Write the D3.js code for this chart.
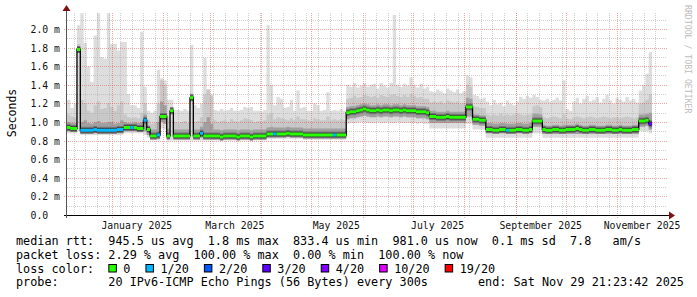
<!DOCTYPE html>
<html>
<head>
<meta charset="utf-8">
<script src="https://cdn.jsdelivr.net/npm/d3@7"></script>
<style>
  body { margin: 0; background: #fff; }
  svg text { font-family: "DejaVu Sans Mono", monospace; white-space: pre; }
</style>
</head>
<body>
<div id="chart"></div>
<script>
// size of the whole picture and of the plot area
const width = 697;
const height = 297;
const plot = {left: 67, right: 667, top: 13, bottom: 215};

// time axis: one value every 2 days, first one on Dec 5 2024
const firstDay = Date.UTC(2024, 11, 5);
const stepDays = 2;

// median rtt in ms
const median = [
  0.94, 0.93, 0.93, 1.78,
  0.91, 0.91, 0.91, 0.91, 0.92, 0.91, 0.91, 0.91, 0.91, 0.91, 0.91, 0.92, 0.92,
  0.94, 0.94, 0.94, 0.94, 0.93, 0.93, 1.02, 0.92, 0.85, 0.85, 0.86, 1.06, 1.06,
  0.85, 1.12, 0.85, 0.85, 0.85, 0.85, 0.85, 1.26, 0.85, 0.85, 0.88,
  0.85, 0.85, 0.85, 0.85, 0.85, 0.84, 0.85, 0.85, 0.85, 0.85, 0.84, 0.85, 0.85, 0.85, 0.84, 0.85, 0.85, 0.85, 0.85,
  0.87, 0.87, 0.87, 0.87, 0.87, 0.87, 0.88, 0.87, 0.87, 0.87, 0.87,
  0.86, 0.86, 0.86, 0.86, 0.86, 0.86, 0.86, 0.86, 0.86, 0.86, 0.86, 0.86, 0.86,
  1.10, 1.11, 1.11, 1.12, 1.13, 1.14, 1.13, 1.12, 1.12, 1.13, 1.12, 1.13, 1.13, 1.12, 1.13, 1.13, 1.12, 1.13, 1.12, 1.12, 1.12, 1.11, 1.11, 1.11, 1.10,
  1.06, 1.06, 1.05, 1.05, 1.05, 1.06, 1.05, 1.05, 1.05, 1.05, 1.05,
  1.16, 1.16, 1.03, 1.03, 1.02, 1.02,
  0.92, 0.92, 0.91, 0.91, 0.92, 0.92, 0.91, 0.91, 0.91, 0.92, 0.92, 0.91, 0.91, 0.92,
  1.01, 1.01, 1.01,
  0.92, 0.91, 0.91, 0.92, 0.92, 0.91, 0.91, 0.92, 0.92, 0.92, 0.93, 0.92, 0.91, 0.91, 0.92, 0.92, 0.91, 0.91, 0.91, 0.92, 0.92, 0.91, 0.91, 0.92, 0.91, 0.91, 0.91, 0.92, 0.92,
  1.01, 1.01, 1.02, 0.98
];

// slowest ping of each step (top of the smoke)
const pingMax = [
  1.24, 1.15, 1.20, 2.04,
  2.17, 1.85, 1.60, 1.43, 1.93, 2.17, 1.70, 1.68, 2.17, 1.84, 1.84, 1.77, 1.86,
  1.86, 1.30, 1.18, 1.18, 1.15, 1.97, 1.38, 1.12, 1.10, 1.12, 1.56, 1.47, 1.45,
  1.24, 1.24, 1.13, 1.13, 1.12, 1.14, 1.12, 1.83, 1.18, 1.15, 1.20,
  1.69, 1.35, 1.30, 1.13, 1.12, 1.14, 1.12, 1.13, 1.15, 1.12, 1.12, 1.13, 1.16, 1.15, 1.16, 1.12, 1.12, 1.11, 1.13,
  2.04, 1.40, 1.18, 1.27, 1.25, 1.15, 1.16, 1.24, 1.12, 1.34, 1.15,
  1.16, 1.12, 1.12, 1.20, 1.18, 1.12, 1.13, 1.32, 1.12, 1.13, 1.12, 1.14, 1.12,
  1.40, 1.38, 1.42, 1.37, 1.39, 1.42, 1.38, 1.40, 1.41, 1.36, 1.42, 1.39, 1.37, 1.42, 2.15, 1.40, 1.38, 1.41, 1.39, 1.48, 1.40, 1.37, 1.41, 1.36, 1.38,
  1.33, 1.32, 1.35, 1.33, 1.31, 1.36, 1.34, 1.32, 1.35, 1.31, 1.33,
  1.50, 1.48, 1.29, 1.28, 1.25, 1.26,
  1.22, 1.18, 1.24, 1.19, 1.21, 1.17, 1.23, 1.20, 1.18, 1.22, 1.27, 1.25, 1.28, 1.26,
  1.29, 1.27, 1.24,
  1.23, 1.25, 1.22, 1.24, 1.26, 1.23, 1.45, 1.14, 1.12, 1.22, 1.26, 1.20, 1.25, 1.28, 1.22, 1.24, 1.27, 1.21, 1.25, 1.29, 1.23, 1.20, 1.26, 1.24, 1.22, 1.27, 1.23, 1.25, 1.21,
  1.34, 1.40, 1.52, 1.75
];

// second slowest ping band
const ping19 = [
  1.08, 1.06, 1.05, 1.84,
  1.24, 1.20, 1.12, 1.10, 1.18, 1.22, 1.14, 1.15, 1.20, 1.16, 1.12, 1.18, 1.22,
  1.08, 1.05, 1.04, 1.05, 1.04, 1.10, 1.20, 1.02, 0.98, 0.99, 1.20, 1.45, 1.40,
  1.05, 1.16, 1.00, 0.99, 1.00, 1.01, 0.99, 1.31, 1.00, 1.01, 1.05,
  1.30, 1.35, 1.28, 1.02, 1.00, 1.01, 1.02, 1.00, 1.03, 1.01, 1.00, 1.02, 1.04, 1.03, 1.02, 1.00, 1.01, 1.00, 1.02,
  1.08, 1.10, 1.03, 1.05, 1.04, 1.03, 1.02, 1.04, 1.02, 1.06, 1.03,
  1.03, 1.02, 1.01, 1.04, 1.03, 1.02, 1.02, 1.06, 1.02, 1.03, 1.02, 1.03, 1.02,
  1.25, 1.26, 1.28, 1.26, 1.27, 1.29, 1.28, 1.27, 1.28, 1.26, 1.29, 1.28, 1.27, 1.29, 1.30, 1.28, 1.27, 1.29, 1.27, 1.30, 1.28, 1.26, 1.27, 1.25, 1.25,
  1.21, 1.22, 1.21, 1.22, 1.20, 1.23, 1.22, 1.21, 1.22, 1.20, 1.21,
  1.40, 1.38, 1.17, 1.16, 1.15, 1.15,
  1.08, 1.07, 1.08, 1.07, 1.09, 1.07, 1.08, 1.07, 1.08, 1.09, 1.08, 1.07, 1.08, 1.08,
  1.17, 1.18, 1.16,
  1.05, 1.04, 1.05, 1.06, 1.05, 1.04, 1.08, 1.04, 1.03, 1.05, 1.06, 1.05, 1.04, 1.05, 1.06, 1.05, 1.04, 1.05, 1.06, 1.05, 1.04, 1.05, 1.05, 1.04, 1.05, 1.06, 1.05, 1.04, 1.05,
  1.20, 1.21, 1.24, 1.30
];

// inner smoke band, upper edge
const upperQ = [
  1.00, 0.99, 0.99, 1.80,
  1.00, 1.02, 0.99, 0.98, 1.00, 1.01, 0.99, 0.99, 1.00, 1.00, 0.98, 0.99, 1.02,
  1.00, 0.99, 0.99, 1.00, 0.99, 1.00, 1.08, 0.96, 0.92, 0.92, 1.00, 1.22, 1.18,
  0.93, 1.14, 0.92, 0.92, 0.92, 0.92, 0.92, 1.28, 0.92, 0.92, 0.95,
  1.00, 1.05, 0.98, 0.92, 0.92, 0.91, 0.92, 0.92, 0.92, 0.92, 0.91, 0.92, 0.92, 0.92, 0.91, 0.92, 0.92, 0.92, 0.92,
  0.94, 0.95, 0.94, 0.94, 0.94, 0.94, 0.95, 0.94, 0.94, 0.94, 0.94,
  0.93, 0.93, 0.93, 0.93, 0.93, 0.93, 0.93, 0.93, 0.93, 0.93, 0.93, 0.93, 0.93,
  1.16, 1.17, 1.17, 1.18, 1.19, 1.20, 1.19, 1.18, 1.18, 1.19, 1.18, 1.19, 1.19, 1.18, 1.19, 1.19, 1.18, 1.19, 1.18, 1.18, 1.18, 1.17, 1.17, 1.17, 1.16,
  1.12, 1.12, 1.11, 1.11, 1.11, 1.12, 1.11, 1.11, 1.11, 1.11, 1.11,
  1.26, 1.25, 1.08, 1.08, 1.07, 1.07,
  0.99, 0.99, 0.98, 0.98, 0.99, 0.99, 0.98, 0.98, 0.98, 0.99, 0.99, 0.98, 0.98, 0.99,
  1.09, 1.09, 1.08,
  0.97, 0.96, 0.96, 0.97, 0.97, 0.96, 0.97, 0.97, 0.97, 0.97, 0.98, 0.97, 0.96, 0.96, 0.97, 0.97, 0.96, 0.96, 0.96, 0.97, 0.97, 0.96, 0.96, 0.97, 0.96, 0.96, 0.96, 0.97, 0.97,
  1.08, 1.08, 1.09, 1.10
];

// inner smoke band, lower edge
const lowerQ = [
  0.90, 0.90, 0.90, 1.76,
  0.88, 0.88, 0.88, 0.88, 0.88, 0.88, 0.88, 0.88, 0.88, 0.88, 0.88, 0.88, 0.88,
  0.90, 0.90, 0.90, 0.90, 0.90, 0.90, 0.90, 0.86, 0.82, 0.82, 0.82, 1.00, 0.98,
  0.82, 1.10, 0.82, 0.82, 0.82, 0.82, 0.82, 1.24, 0.82, 0.82, 0.83,
  0.82, 0.82, 0.82, 0.82, 0.82, 0.81, 0.82, 0.82, 0.82, 0.82, 0.81, 0.82, 0.82, 0.82, 0.81, 0.82, 0.82, 0.82, 0.82,
  0.84, 0.84, 0.84, 0.84, 0.84, 0.84, 0.84, 0.84, 0.84, 0.84, 0.84,
  0.83, 0.83, 0.83, 0.83, 0.83, 0.83, 0.83, 0.83, 0.83, 0.83, 0.83, 0.83, 0.83,
  1.03, 1.04, 1.04, 1.05, 1.06, 1.07, 1.06, 1.05, 1.05, 1.06, 1.05, 1.06, 1.06, 1.05, 1.06, 1.06, 1.05, 1.06, 1.05, 1.05, 1.05, 1.04, 1.04, 1.04, 1.03,
  0.99, 0.99, 0.99, 0.99, 0.99, 0.99, 0.99, 0.99, 0.99, 0.99, 0.99,
  1.06, 1.06, 0.97, 0.97, 0.96, 0.96,
  0.88, 0.88, 0.88, 0.88, 0.88, 0.88, 0.88, 0.88, 0.88, 0.88, 0.88, 0.88, 0.88, 0.88,
  0.95, 0.95, 0.95,
  0.87, 0.87, 0.87, 0.87, 0.87, 0.87, 0.87, 0.87, 0.87, 0.87, 0.87, 0.87, 0.87, 0.87, 0.87, 0.87, 0.87, 0.87, 0.87, 0.87, 0.87, 0.87, 0.87, 0.87, 0.87, 0.87, 0.87, 0.87, 0.87,
  0.95, 0.95, 0.96, 0.92
];

// fastest ping of each step (bottom of the smoke)
const pingMin = [
  0.88, 0.88, 0.88, 0.90,
  0.86, 0.86, 0.86, 0.86, 0.86, 0.86, 0.86, 0.86, 0.86, 0.86, 0.86, 0.86, 0.86,
  0.88, 0.88, 0.88, 0.88, 0.88, 0.88, 0.86, 0.83, 0.80, 0.80, 0.80, 0.93, 0.92,
  0.80, 0.80, 0.80, 0.80, 0.80, 0.80, 0.80, 0.80, 0.80, 0.80, 0.80,
  0.80, 0.80, 0.80, 0.80, 0.80, 0.80, 0.80, 0.80, 0.80, 0.80, 0.80, 0.80, 0.80, 0.80, 0.80, 0.80, 0.80, 0.80, 0.80,
  0.82, 0.82, 0.82, 0.82, 0.82, 0.82, 0.82, 0.82, 0.82, 0.82, 0.82,
  0.81, 0.81, 0.81, 0.81, 0.81, 0.81, 0.81, 0.81, 0.81, 0.81, 0.81, 0.81, 0.81,
  0.98, 0.99, 0.99, 0.99, 1.00, 1.00, 0.99, 0.99, 0.99, 1.00, 0.99, 0.99, 1.00, 0.99, 0.99, 1.00, 0.99, 0.99, 0.99, 0.99, 0.99, 0.98, 0.99, 0.98, 0.98,
  0.93, 0.93, 0.93, 0.93, 0.93, 0.93, 0.93, 0.93, 0.93, 0.93, 0.93,
  0.98, 0.98, 0.92, 0.92, 0.92, 0.92,
  0.83, 0.83, 0.83, 0.83, 0.83, 0.83, 0.83, 0.83, 0.83, 0.83, 0.83, 0.83, 0.83, 0.83,
  0.88, 0.88, 0.88,
  0.83, 0.83, 0.83, 0.83, 0.83, 0.83, 0.83, 0.83, 0.83, 0.83, 0.83, 0.83, 0.83, 0.83, 0.83, 0.83, 0.83, 0.83, 0.83, 0.83, 0.83, 0.83, 0.83, 0.83, 0.83, 0.83, 0.83, 0.83, 0.83,
  0.90, 0.90, 0.90, 0.88
];

// packet loss: [first step, last step, index into lossLabels]; other steps had no loss
const lossRuns = [[4, 16, 1], [19, 19, 1], [23, 23, 1], [27, 27, 1], [40, 40, 1],
                  [62, 62, 1], [80, 80, 1], [132, 132, 1], [175, 175, 3]];
const lossLabels = ["0", "1/20", "2/20", "3/20", "4/20", "10/20", "19/20"];
const lossColors = ["#26ff00", "#00b8ff", "#0059ff", "#5e00ff", "#7e00ff", "#dd00ff", "#ff0000"];

// axes
const yMajor = [0, 0.2, 0.4, 0.6, 0.8, 1.0, 1.2, 1.4, 1.6, 1.8, 2.0];
const yMinor = [0.1, 0.3, 0.5, 0.7, 0.9, 1.1, 1.3, 1.5, 1.7, 1.9, 2.1];
const monthLabels = [[2025, 0, "January 2025"], [2025, 2, "March 2025"], [2025, 4, "May 2025"],
                     [2025, 6, "July 2025"], [2025, 8, "September 2025"], [2025, 10, "November 2025"]];

// legend texts
const legendRtt = "median rtt:  945.5 us avg  1.8 ms max  833.4 us min  981.0 us now  0.1 ms sd  7.8   am/s";
const legendLoss = "packet loss: 2.29 % avg  100.00 % max  0.00 % min  100.00 % now";
const legendProbe = "probe:       20 IPv6-ICMP Echo Pings (56 Bytes) every 300s";
const legendEnd = "end: Sat Nov 29 21:23:42 2025";

// colours
const smokeColors = ["#dddddd", "#c8c8c8", "#a0a0a0"];
const majorGrid = "rgba(230,80,80,0.5)";
const minorGrid = "rgba(170,170,170,0.55)";
const arrowColour = "#7f1010";

const day = 24 * 3600 * 1000;
const lossAt = i => { const r = lossRuns.find(r => i >= r[0] && i <= r[1]); return r ? r[2] : 0; };
const rows = median.map((m, i) => ({
  date: new Date(firstDay + i * stepDays * day),
  next: new Date(firstDay + (i + 1) * stepDays * day),
  med: m, max: pingMax[i], p19: ping19[i], up: upperQ[i], lo: lowerQ[i], min: pingMin[i], loss: lossAt(i)
}));
// the last step also needs its right edge
const rowsExt = rows.concat([{...rows[rows.length - 1], date: rows[rows.length - 1].next}]);

const x = d3.scaleUtc()
  .domain([new Date(Date.UTC(2024, 11, 5)), new Date(Date.UTC(2025, 11, 1))])
  .range([plot.left, plot.right]);
const y = d3.scaleLinear()
  .domain([0, 2.172])
  .range([plot.bottom, plot.top]);
const crisp = v => Math.round(v) + 0.5;

const svg = d3.select("#chart").append("svg")
  .attr("width", width).attr("height", height)
  .style("display", "block");
svg.append("rect").attr("width", width).attr("height", height).attr("fill", "#fff");

/// smoke ///
const smokeG = svg.append("g");
const band = (lo, hi) => d3.area().curve(d3.curveStepAfter)
  .x(d => x(d.date)).y0(d => y(lo(d))).y1(d => y(hi(d)));
smokeG.append("path").attr("d", band(d => d.min, d => d.max)(rowsExt)).attr("fill", smokeColors[0]);
smokeG.append("path").attr("d", band(d => d.lo, d => d.p19)(rowsExt)).attr("fill", smokeColors[1]);
smokeG.append("path").attr("d", band(d => d.lo, d => d.up)(rowsExt)).attr("fill", smokeColors[2]);

/// grid ///
const gridG = svg.append("g").attr("fill", "none").attr("stroke-dasharray", "1,1");
gridG.selectAll(".hminor").data(yMinor).join("line")
  .attr("x1", plot.left).attr("x2", plot.right)
  .attr("y1", d => crisp(y(d))).attr("y2", d => crisp(y(d)))
  .attr("stroke", minorGrid);
const weeks = d3.utcMonday.range(x.domain()[0], x.domain()[1]);
const months = d3.utcMonth.range(x.domain()[0], x.domain()[1]);
gridG.selectAll(".vminor").data(weeks).join("line")
  .attr("x1", d => crisp(x(d))).attr("x2", d => crisp(x(d)))
  .attr("y1", plot.top).attr("y2", plot.bottom)
  .attr("stroke", minorGrid);
gridG.selectAll(".hmajor").data(yMajor.slice(1)).join("line")
  .attr("x1", plot.left - 3).attr("x2", plot.right)
  .attr("y1", d => crisp(y(d))).attr("y2", d => crisp(y(d)))
  .attr("stroke", majorGrid);
gridG.selectAll(".vmajor").data(months).join("line")
  .attr("x1", d => crisp(x(d))).attr("x2", d => crisp(x(d)))
  .attr("y1", plot.top).attr("y2", plot.bottom + 3)
  .attr("stroke", majorGrid);

/// median ///
const medG = svg.append("g").attr("fill", "none");
const segment = d => `M${x(d.date)},${y(d.med)}H${x(d.next)}`;
const allSegments = rows.map(segment).join("");
medG.append("path").attr("d", allSegments).attr("stroke", "#747474").attr("stroke-width", 7);
medG.append("path").attr("d", allSegments).attr("stroke", "#3c3c3c").attr("stroke-width", 4.5);
medG.append("path")
  .attr("d", d3.line().curve(d3.curveStepAfter).x(d => x(d.date)).y(d => y(d.med))(rowsExt))
  .attr("stroke", "#000").attr("stroke-width", 1.3);
// one path per loss colour so that the segments join without seams
const byLoss = d3.groups(rows, d => d.loss);
medG.selectAll(".loss").data(byLoss).join("path")
  .attr("d", ([, list]) => list.map(segment).join(""))
  .attr("stroke", ([loss]) => lossColors[loss])
  .attr("stroke-width", 3);

/// axes ///
const axisG = svg.append("g");
axisG.append("line").attr("x1", plot.left - 3).attr("x2", plot.right + 3)
  .attr("y1", plot.bottom + 0.5).attr("y2", plot.bottom + 0.5).attr("stroke", "#000");
axisG.append("line").attr("x1", plot.left - 0.5).attr("x2", plot.left - 0.5)
  .attr("y1", plot.bottom + 3).attr("y2", plot.top - 3).attr("stroke", "#555");
axisG.append("path")
  .attr("d", `M${plot.right + 2},${plot.bottom - 3.5}L${plot.right + 8},${plot.bottom + 0.5}L${plot.right + 2},${plot.bottom + 4.5}Z`)
  .attr("fill", arrowColour);
axisG.append("path")
  .attr("d", `M${plot.left - 4.5},${plot.top - 2}L${plot.left - 0.5},${plot.top - 8}L${plot.left + 3.5},${plot.top - 2}Z`)
  .attr("fill", arrowColour);

axisG.selectAll(".ylab").data(yMajor).join("text")
  .attr("x", plot.left - 7)
  .attr("y", d => crisp(y(d)))
  .attr("dy", "0.36em")
  .attr("text-anchor", "end")
  .attr("font-size", "9.8px")
  .attr("fill", "#111")
  .text(d => d === 0 ? "0.0  " : `${d.toFixed(1)} m`);

axisG.selectAll(".xlab").data(monthLabels).join("text")
  .attr("x", d => x(new Date(Date.UTC(d[0], d[1], 16))))
  .attr("y", 228.5)
  .attr("text-anchor", "middle")
  .attr("font-size", "9.8px")
  .attr("fill", "#111")
  .text(d => d[2]);

svg.append("text")
  .attr("transform", "translate(15.5,113)rotate(-90)")
  .attr("text-anchor", "middle")
  .attr("font-size", "11.5px")
  .attr("fill", "#000")
  .text("Seconds");

svg.append("text")
  .attr("transform", "translate(685,5)rotate(90)")
  .attr("font-size", "8.2px")
  .attr("fill", "#bdbdbd")
  .text("RRDTOOL / TOBI OETIKER");

/// legend ///
const legendG = svg.append("g").attr("font-size", "11.8px").attr("fill", "#000");
const legendX = 16;
legendG.append("text").attr("x", legendX).attr("y", 245).text(legendRtt);
legendG.append("text").attr("x", legendX).attr("y", 258.7).text(legendLoss);
const lossTitle = legendG.append("text").attr("x", legendX).attr("y", 272.5).text("loss color:  ");
let lx = legendX + lossTitle.node().getComputedTextLength();
lossLabels.forEach((label, i) => {
  legendG.append("rect")
    .attr("x", lx + 0.5).attr("y", 264.5).attr("width", 7.5).attr("height", 7.5)
    .attr("fill", lossColors[i]).attr("stroke", "#000");
  const t = legendG.append("text").attr("x", lx + 15).attr("y", 272.5).text(label);
  lx += 15 + t.node().getComputedTextLength() + 15;
});
legendG.append("text").attr("x", legendX).attr("y", 286.2).text(legendProbe);
legendG.append("text").attr("x", 478).attr("y", 286.2).text(legendEnd);
</script>
</body>
</html>
